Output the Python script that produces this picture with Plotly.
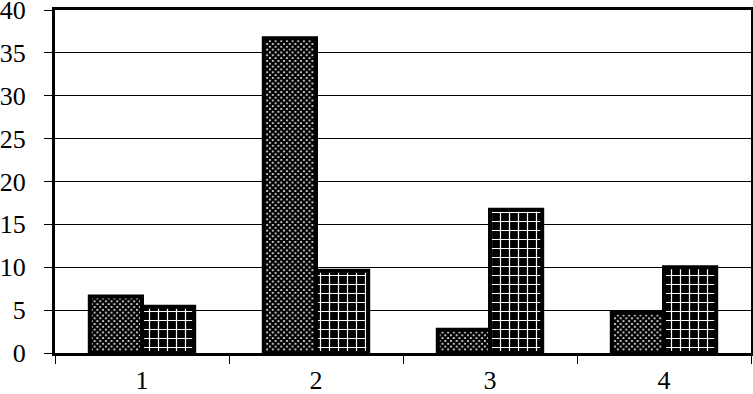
import plotly.graph_objects as go

categories = ["1", "2", "3", "4"]
series_a = [6.6, 36.7, 2.7, 4.7]
series_b = [5.4, 9.6, 16.7, 10.0]
y_ticks = [0, 5, 10, 15, 20, 25, 30, 35, 40]

fig = go.Figure()
fig.add_trace(go.Bar(
    x=categories, y=series_a, name="A",
    marker=dict(color="white",
                line=dict(color="black", width=4),
                pattern=dict(shape="x", fgcolor="black", bgcolor="white",
                             size=4, solidity=0.8, fillmode="replace")),
))
fig.add_trace(go.Bar(
    x=categories, y=series_b, name="B",
    marker=dict(color="black",
                line=dict(color="black", width=4),
                pattern=dict(shape="+", fgcolor="white", bgcolor="black",
                             size=9, solidity=0.25, fillmode="replace")),
))

font = dict(family='"Liberation Serif", "Times New Roman", Times, serif', size=26, color="black")
fig.update_layout(
    width=753, height=394,
    margin=dict(l=55, r=2, t=10, b=41, autoexpand=False),
    paper_bgcolor="white", plot_bgcolor="white",
    barmode="group", bargap=0.4, bargroupgap=0,
    showlegend=False,
    font=font,
)
fig.update_xaxes(
    type="category", tickson="boundaries", automargin=False,
    showline=True, linecolor="black", linewidth=3, mirror=True,
    ticks="outside", ticklen=8, tickcolor="black", tickwidth=1,
    showgrid=False, tickfont=font, ticklabelstandoff=2,
)
fig.update_yaxes(
    range=[0, 40], tickvals=y_ticks, automargin=False,
    showline=True, linecolor="black", linewidth=3, mirror=True,
    ticks="outside", ticklen=8, tickcolor="black", tickwidth=1,
    showgrid=True, gridcolor="black", gridwidth=1,
    zeroline=False, tickfont=font, ticklabelstandoff=13,
    ticklabeloverflow="allow",
)
fig.write_html(
    "out.html",
    config={"displayModeBar": False},
    post_script="document.body.style.margin='0';document.body.style.overflow='hidden';",
)
